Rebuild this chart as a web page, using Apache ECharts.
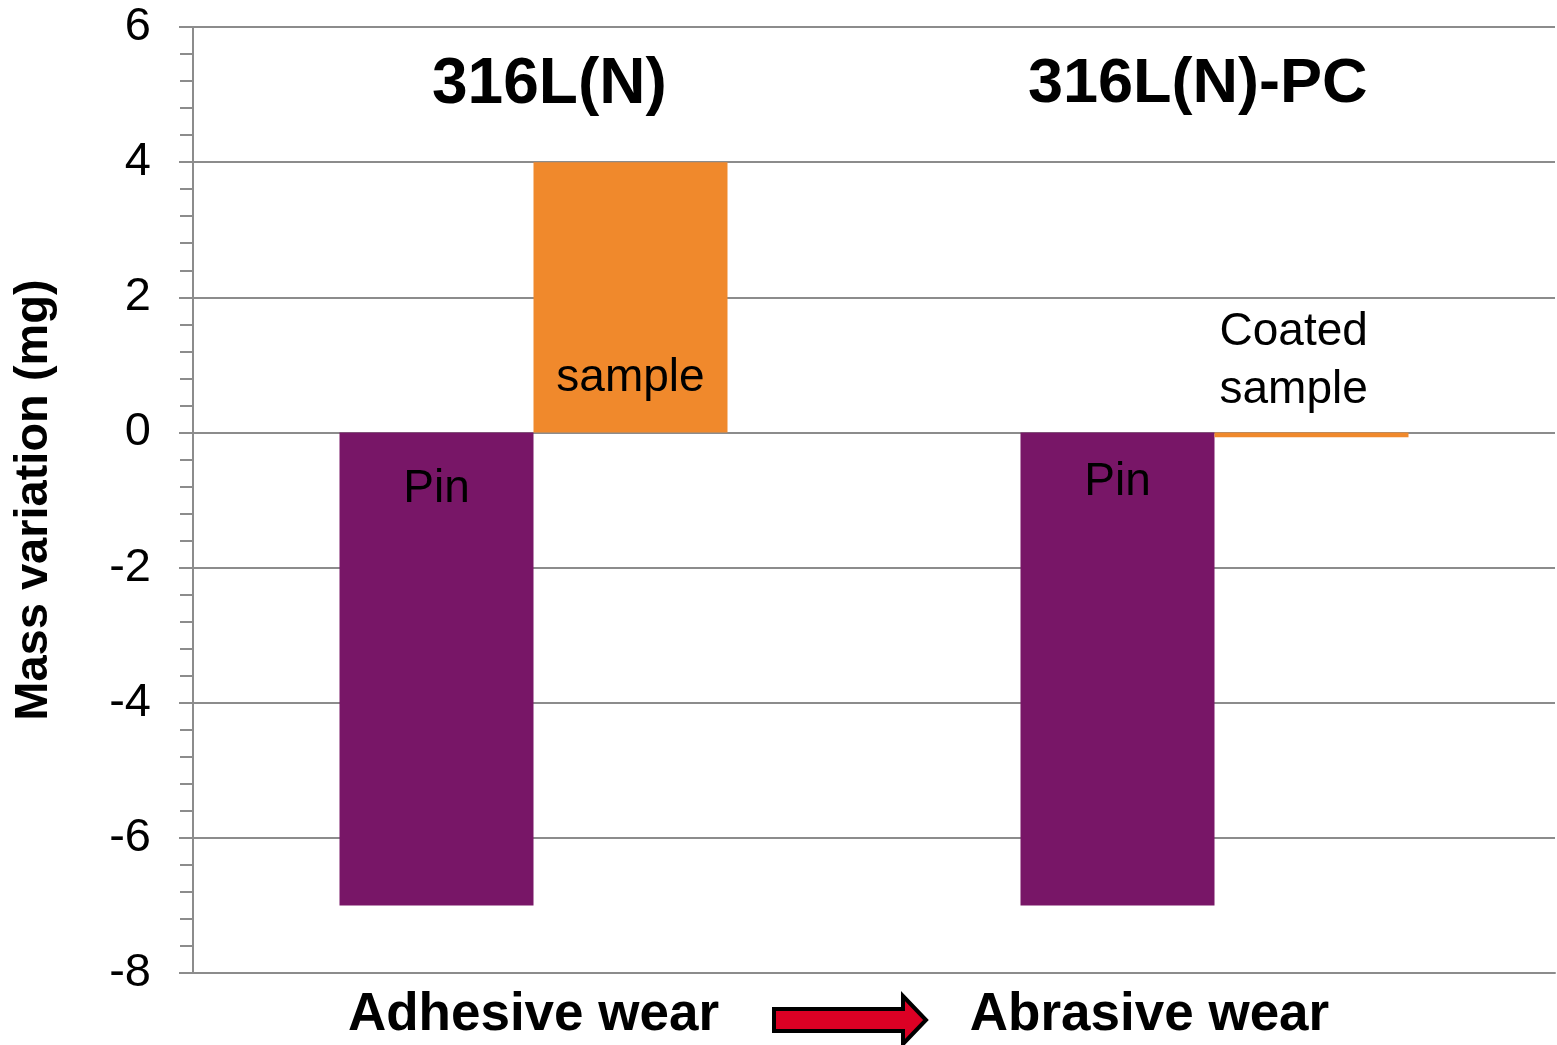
<!DOCTYPE html>
<html>
<head>
<meta charset="utf-8">
<script src="https://cdn.jsdelivr.net/npm/echarts@6/dist/echarts.min.js"></script>
<style>
  html, body {margin: 0; padding: 0; background: #fff;}
  #chart {width: 1557px; height: 1045px;}
</style>
</head>
<body>
<div id="chart"></div>
<script>
// DATA
const categories = ["Adhesive wear", "Abrasive wear"];
const group_titles = ["316L(N)", "316L(N)-PC"];
const pin_values = [-7, -7];
const sample_values = [4, -0.07];
const sample_labels = ["sample", "Coated\nsample"];

const font = '"Liberation Sans", Arial, sans-serif';
const grid_gray = "#8c8c8c";

const chart = echarts.init(document.getElementById("chart"), null, {renderer: "canvas"});

const option = {
  animation: false,
  grid: {left: 193, right: 2, top: 27, bottom: 72, outerBoundsMode: "none", containLabel: false},
  xAxis: {
    type: "category",
    data: categories.map((c, i) => i === 1
      ? {value: c, textStyle: {padding: [0, 130, 0, 0]}}
      : c),
    axisLine: {onZero: false, lineStyle: {color: grid_gray, width: 2}},
    axisTick: {show: false},
    axisLabel: {
      fontFamily: font, fontSize: 53, fontWeight: "bold", color: "#000",
      margin: 15, lineHeight: 54
    }
  },
  yAxis: {
    type: "value", min: -8, max: 6, interval: 2,
    name: "Mass variation (mg)", nameLocation: "middle", nameGap: 135, nameRotate: 90,
    nameTextStyle: {fontFamily: font, fontSize: 47, fontWeight: "bold", color: "#000"},
    axisLine: {show: true, lineStyle: {color: grid_gray, width: 2}},
    axisTick: {show: true, length: 14, lineStyle: {color: grid_gray, width: 2}},
    minorTick: {show: true, splitNumber: 5, length: 13, lineStyle: {color: grid_gray, width: 2}},
    axisLabel: {fontFamily: font, fontSize: 47, color: "#000", margin: 42},
    splitLine: {show: true, lineStyle: {color: grid_gray, width: 2}}
  },
  series: [
    {
      name: "Pin", type: "bar", barWidth: 194, barGap: "0%",
      itemStyle: {color: "#781667"},
      label: {
        show: true, position: "insideTop", distance: 34, formatter: "Pin",
        fontFamily: font, fontSize: 46, color: "#000", lineHeight: 46
      },
      data: pin_values.map((v, i) => i === 1 ? {value: v, label: {distance: 27}} : v)
    },
    {
      name: "Sample", type: "bar", barWidth: 194,
      itemStyle: {color: "#f0892c"},
      label: {
        show: true, fontFamily: font, fontSize: 46, color: "#000", lineHeight: 58
      },
      data: sample_values.map((v, i) => i === 0
        ? {value: v, label: {position: "insideBottom", distance: 25, formatter: sample_labels[0]}}
        : {value: v, label: {position: "top", distance: 13, align: "left", offset: [-92, 0], formatter: sample_labels[1]}})
    }
  ],
  graphic: [
    {type: "text", left: 432, top: 53, style: {text: group_titles[0], font: 'bold 64px "Liberation Sans", Arial', fill: "#000"}},
    {type: "text", left: 1028, top: 53, style: {text: group_titles[1], font: 'bold 63px "Liberation Sans", Arial', fill: "#000"}},
    {
      type: "polygon",
      shape: {points: [[774, 1009], [903, 1009], [903, 996], [926, 1020], [903, 1044], [903, 1031], [774, 1031]]},
      style: {fill: "#dc0024", stroke: "#000", lineWidth: 4}
    }
  ]
};

chart.setOption(option);
</script>
</body>
</html>
